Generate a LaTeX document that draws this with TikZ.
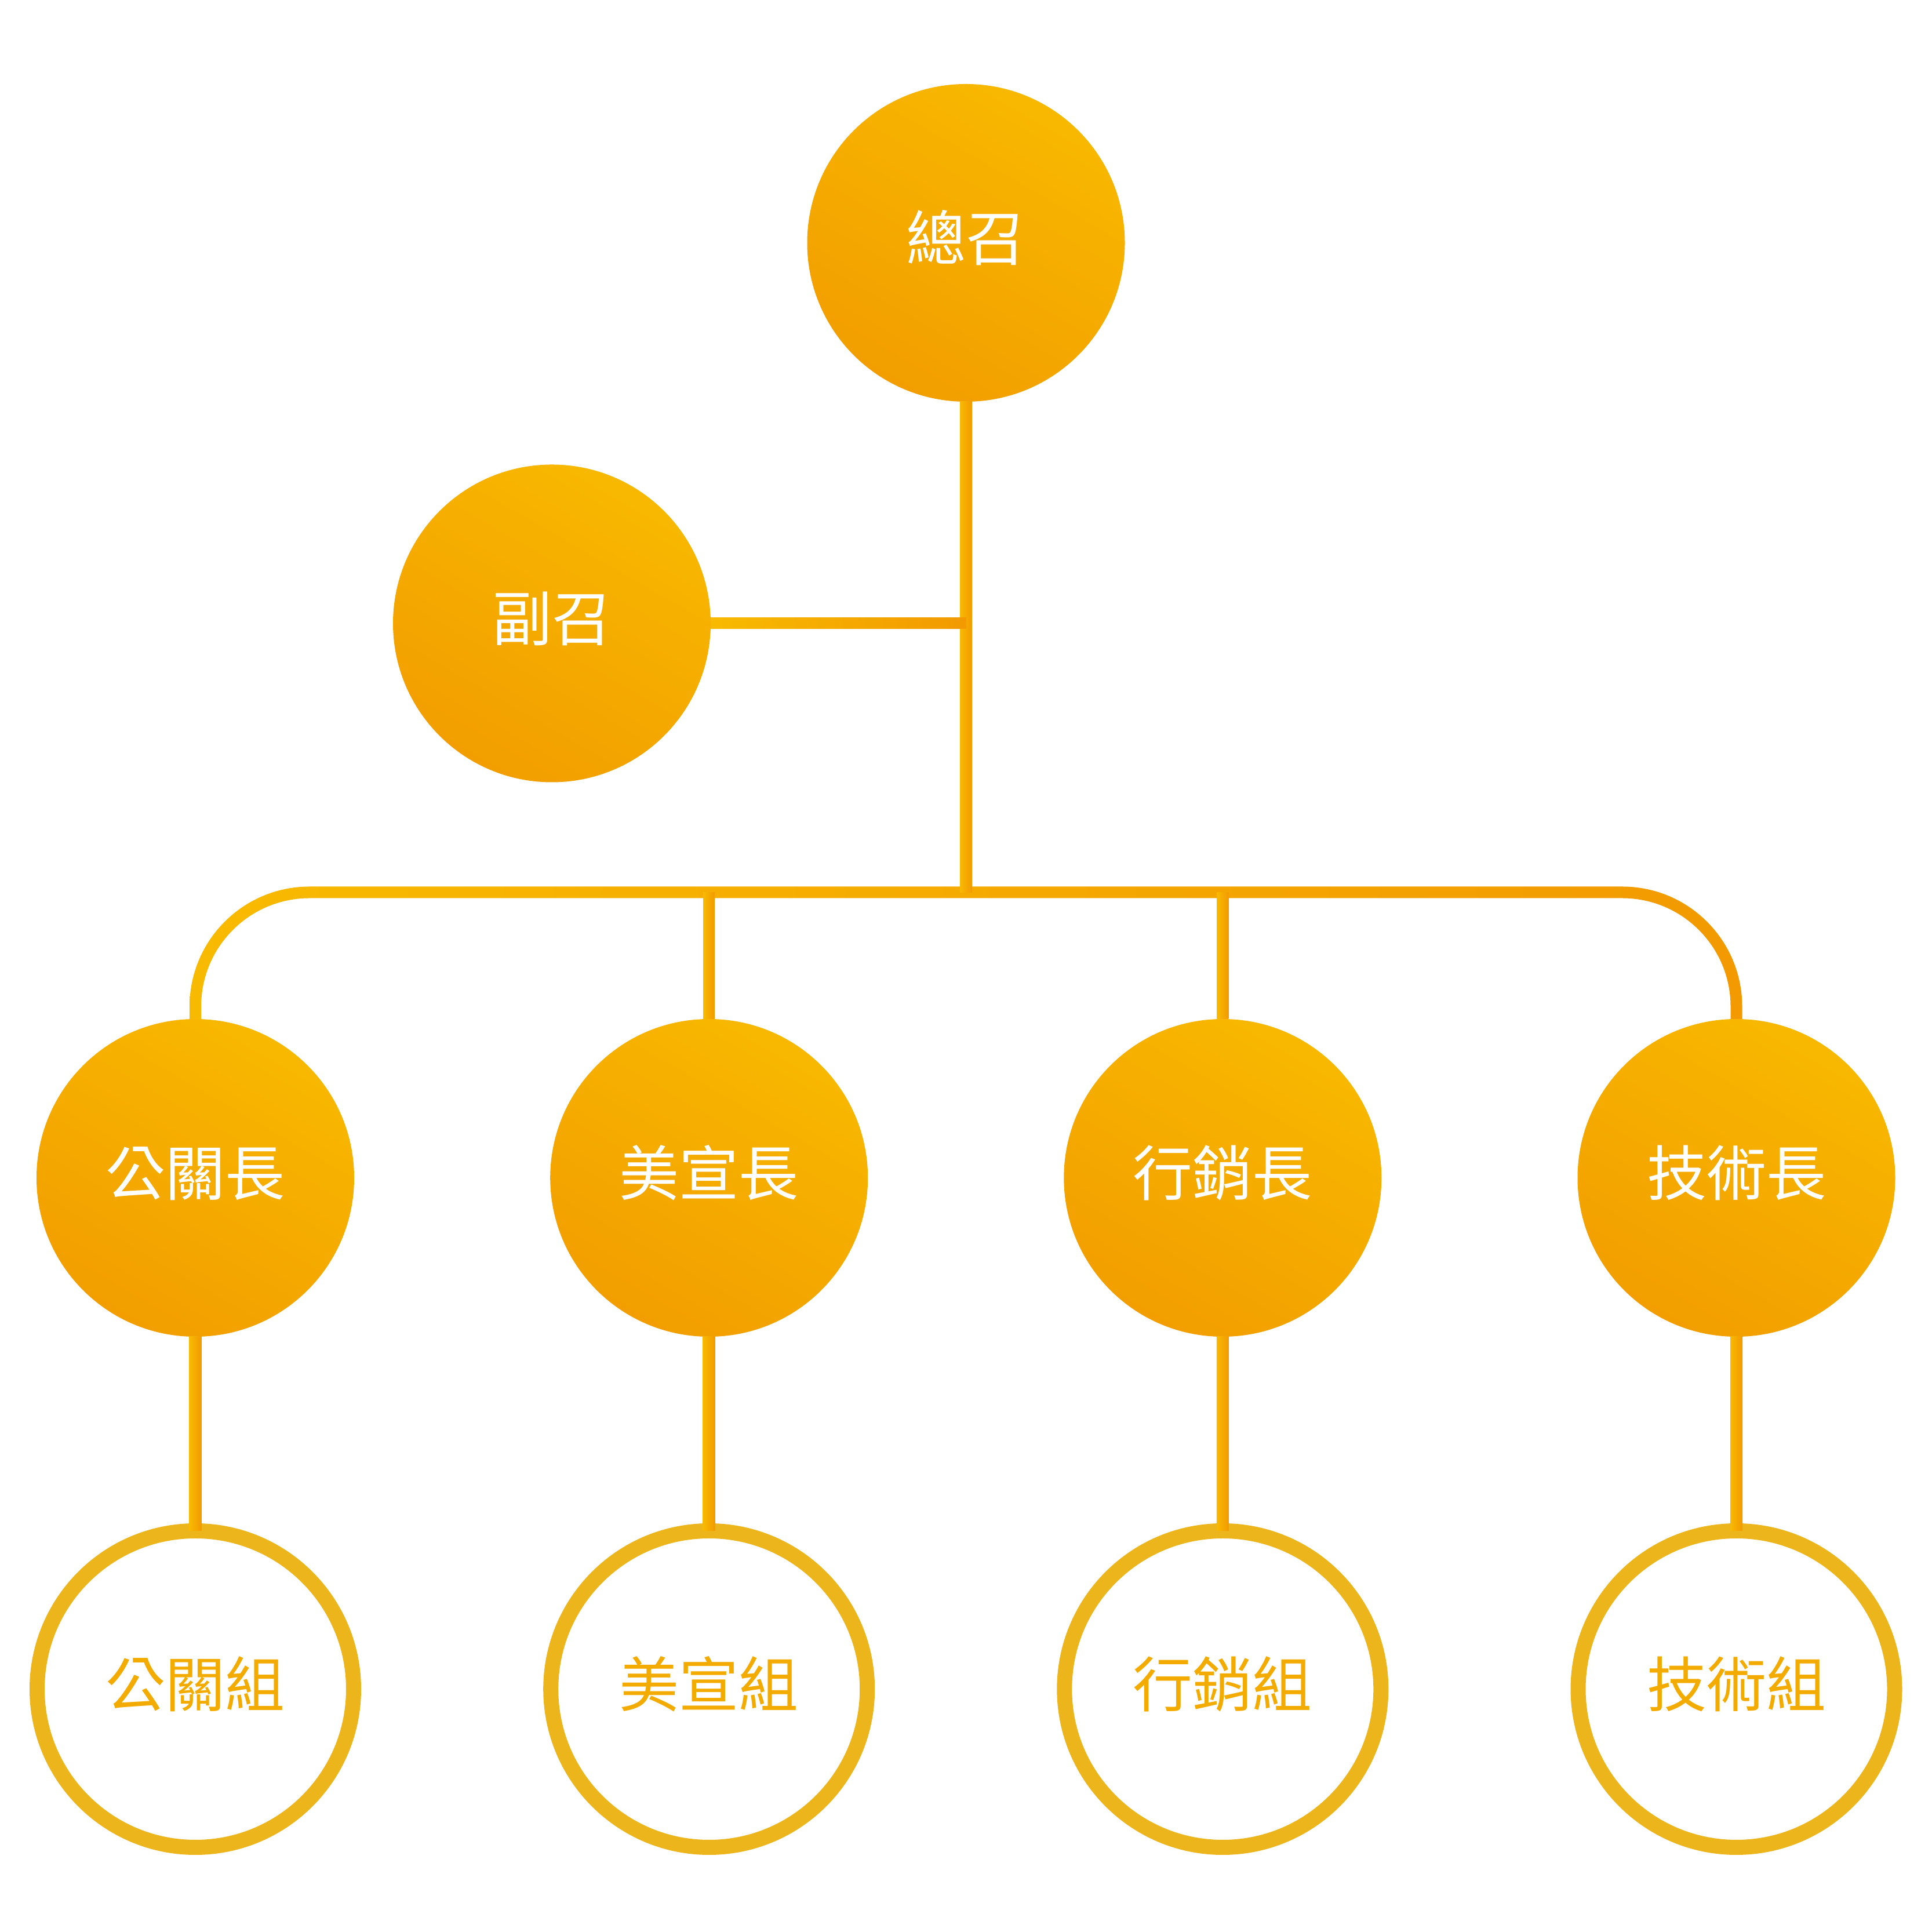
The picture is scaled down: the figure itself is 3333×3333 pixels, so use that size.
\documentclass[tikz,border=0pt]{standalone}
\usepackage{fontspec}
\newfontfamily\cjk{Noto Sans CJK TC}
\usetikzlibrary{calc}
\definecolor{gy}{HTML}{F8BA00}
\definecolor{go}{HTML}{F29A00}
\definecolor{cy}{HTML}{F8B800}
\definecolor{co}{HTML}{F29E00}
\definecolor{ringc}{HTML}{EDB51C}
\definecolor{lbl}{HTML}{F4AB00}
\begin{document}
\begin{tikzpicture}[x=1pt,y=1pt,
  lead/.style={circle, inner sep=0pt, outer sep=0pt, minimum size=548pt,
    shade, top color=cy, bottom color=co, shading angle=-30,
    text=white, font=\cjk\fontsize{103}{110}\selectfont,
    text height=88pt, text depth=27pt},
  team/.style={circle, inner sep=0pt, outer sep=0pt, minimum size=546pt,
    draw=ringc, line width=26pt, fill=white,
    text=lbl, font=\cjk\fontsize{103}{110}\selectfont,
    text height=88pt, text depth=27pt},
  conn/.style={left color=gy, right color=go}]
\fill[white] (0,0) rectangle (3333,3333);
\useasboundingbox (0,0) rectangle (3333,3333);

% nodes
\node[lead] (zz) at (1666.5,2914) {總召};
\node[lead] (fz) at (952,2257.5) {副召};
\node[lead] (g1) at (337,1301) {公關長};
\node[lead] (g2) at (1223.2,1301) {美宣長};
\node[lead] (g3) at (2109.3,1301) {行銷長};
\node[lead] (g4) at (2995.5,1301) {技術長};
\node[team] (t1) at (337,419) {公關組};
\node[team] (t2) at (1223.2,419) {美宣組};
\node[team] (t3) at (2109.3,419) {行銷組};
\node[team] (t4) at (2995.5,419) {技術組};

\coordinate (hub) at (1666.5,1793.5);

% main bar with rounded ends
\shade[conn]
  ($(g1.north)+(-10,0)$) -- ($(g1.north)+(-10,21.5)$)
  arc[start angle=180, end angle=90, radius=207]
  -- ($(g4.north)+(-197,228.5)$)
  arc[start angle=90, end angle=0, radius=207]
  -- ($(g4.north)+(10,0)$) -- ($(g4.north)+(-10,0)$) -- ($(g4.north)+(-10,21.5)$)
  arc[start angle=0, end angle=90, radius=187]
  -- ($(g1.north)+(197,208.5)$)
  arc[start angle=90, end angle=180, radius=187]
  -- ($(g1.north)+(10,0)$) -- cycle;

% main vertical
\shade[conn] ($(zz.south)+(-10.5,0)$) rectangle ($(hub)+(10.5,0)$);
% deputy
\shade[conn] ($(fz.east)+(0,-9.5)$) rectangle ($(zz.south |- fz.east)+(0,9.5)$);
% bar to middle heads
\shade[conn] ($(g2.north)+(-10,0)$) rectangle ($(g2.north |- hub)+(10,0)$);
\shade[conn] ($(g3.north)+(-10,0)$) rectangle ($(g3.north |- hub)+(10,0)$);
% heads to teams
\shade[conn] ($(g1.south)+(-10.5,0)$) rectangle ($(t1.north)+(10.5,0)$);
\shade[conn] ($(g2.south)+(-10.5,0)$) rectangle ($(t2.north)+(10.5,0)$);
\shade[conn] ($(g3.south)+(-10.5,0)$) rectangle ($(t3.north)+(10.5,0)$);
\shade[conn] ($(g4.south)+(-10.5,0)$) rectangle ($(t4.north)+(10.5,0)$);
\end{tikzpicture}
\end{document}
